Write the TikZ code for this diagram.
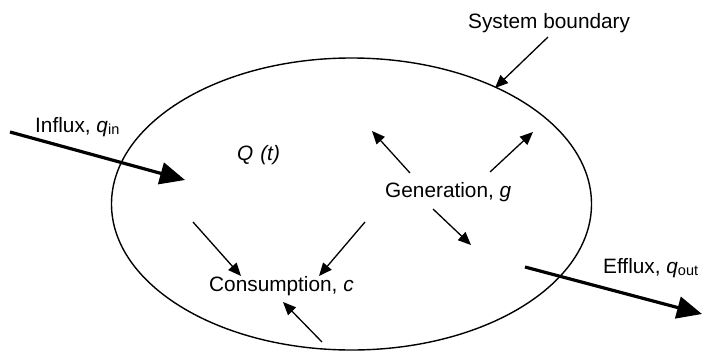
\documentclass[tikz,border=0pt]{standalone}
\usepackage{fontspec}
\setmainfont{Liberation Sans}
\usetikzlibrary{arrows.meta,shapes.geometric}
\newcommand{\sub}[1]{\raisebox{-0.25ex}{\fontsize{14.5}{14.5}\selectfont #1}}
\begin{document}
\begin{tikzpicture}[x=1pt,y=-1pt,
  lbl/.style={anchor=base west, inner sep=0pt, font=\fontsize{20.8}{24}\selectfont},
  thinarrow/.style={line width=1.3pt, -{Triangle[length=13pt,width=11pt]}},
  flux/.style={line width=3.2pt, -{Triangle[length=25pt,width=22pt]}}]
\useasboundingbox (0,0) rectangle (706,351);

% system boundary
\node[draw, line width=1.4pt, ellipse, inner sep=0pt,
      minimum width=480pt, minimum height=292pt] (boundary) at (351.5,204) {};

% labels
\node[lbl] (sysb) at (468,28) {System boundary};
\node[lbl] (influx) at (35,132) {Influx, \textit{q}\sub{in}};
\node[lbl] (efflux) at (603,273) {Efflux, \textit{q}\sub{out}};
\node[lbl] (store) at (237,160) {\textit{Q\,\,(t)}};
\node[lbl] (gen) at (385,197) {Generation, \textit{g}};
\node[lbl] (cons) at (209,291) {Consumption, \textit{c}};

% arrow end points
\coordinate (sbA) at (548,37);   \coordinate (sbB) at (495,88);
\coordinate (inA) at (10,132);   \coordinate (inB) at (185,180);
\coordinate (outA) at (525,267); \coordinate (outB) at (702,314);
\coordinate (g1A) at (410,173);  \coordinate (g1B) at (372,131);
\coordinate (g2A) at (490,172);  \coordinate (g2B) at (533,132);
\coordinate (g3A) at (433,209);  \coordinate (g3B) at (471,245);
\coordinate (c1A) at (365,222);  \coordinate (c1B) at (319,276);
\coordinate (c2A) at (193,222);  \coordinate (c2B) at (241,276);
\coordinate (c3A) at (322,342);  \coordinate (c3B) at (283,302);

% connectors
\draw[thinarrow] (sbA) -- (sbB);
\draw[flux] (inA) -- (inB);
\draw[flux] (outA) -- (outB);
\draw[thinarrow] (g1A) -- (g1B);
\draw[thinarrow] (g2A) -- (g2B);
\draw[thinarrow] (g3A) -- (g3B);
\draw[thinarrow] (c1A) -- (c1B);
\draw[thinarrow] (c2A) -- (c2B);
\draw[thinarrow] (c3A) -- (c3B);
\end{tikzpicture}
\end{document}
